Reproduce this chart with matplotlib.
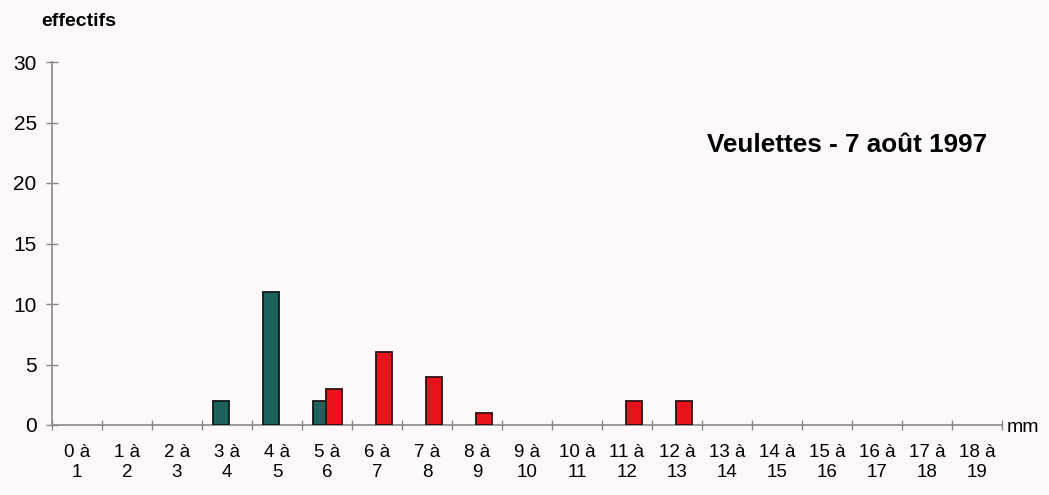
import numpy as np
import matplotlib
matplotlib.use("Agg")
import matplotlib.pyplot as plt

# classes de taille (mm)
classes = [f"{i} à\n{i + 1}" for i in range(19)]
teal_values = [0, 0, 0, 2, 11, 2, 0, 0, 0, 0, 0, 0, 0, 0, 0, 0, 0, 0, 0]
red_values = [0, 0, 0, 0, 0, 3, 6, 4, 1, 0, 0, 2, 2, 0, 0, 0, 0, 0, 0]
y_ticks = [0, 5, 10, 15, 20, 25, 30]

plt.rcParams['font.family'] = ['Liberation Sans', 'DejaVu Sans']

bg = '#fdf8f9'
axis_col = '#8a8a8a'
teal = '#1c635c'
red = '#e8131b'

fig = plt.figure(figsize=(10.49, 4.95), dpi=100, facecolor=bg)
ax = fig.add_axes([52 / 1049, 70 / 495, 950 / 1049, 363 / 495], facecolor=bg)

x = np.arange(len(classes))
w = 0.32
# only draw the non-zero bars
for xi, v in zip(x, teal_values):
    if v > 0:
        ax.bar(xi + 0.38, v, width=w, color=teal, edgecolor='#101818', linewidth=1.3, zorder=3)
for xi, v in zip(x, red_values):
    if v > 0:
        ax.bar(xi + 0.64, v, width=w, color=red, edgecolor='#301010', linewidth=1.3, zorder=4)

ax.set_xlim(0, 19)
ax.set_ylim(0, 30)
ax.set_yticks(y_ticks)
ax.set_yticklabels([str(t) for t in y_ticks], fontsize=15)

ax.set_xticks(np.arange(0, 20))
ax.set_xticklabels([])
ax.set_xticks(x + 0.5, minor=True)
ax.set_xticklabels(classes, minor=True, fontsize=13.5, linespacing=1.2)
ax.tick_params(axis='x', which='minor', length=0, pad=14)
ax.tick_params(axis='x', which='major', direction='inout', length=7, color=axis_col, width=1)
ax.tick_params(axis='y', direction='inout', length=8, color=axis_col, width=1, pad=7)

for s in ['top', 'right']:
    ax.spines[s].set_visible(False)
for s in ['left', 'bottom']:
    ax.spines[s].set_color(axis_col)
    ax.spines[s].set_linewidth(1.2)

fig.text(41 / 1049, 1 - 22 / 495, 'effectifs', fontsize=14, fontweight='bold', va='center', ha='left')
fig.text(707 / 1049, 1 - 145 / 495, 'Veulettes - 7 août 1997', fontsize=18.8, fontweight='bold',
         va='center', ha='left')
fig.text(1007 / 1049, 1 - 428 / 495, 'mm', fontsize=14, va='center', ha='left')

fig.savefig('out.png', dpi=100, facecolor=bg)
